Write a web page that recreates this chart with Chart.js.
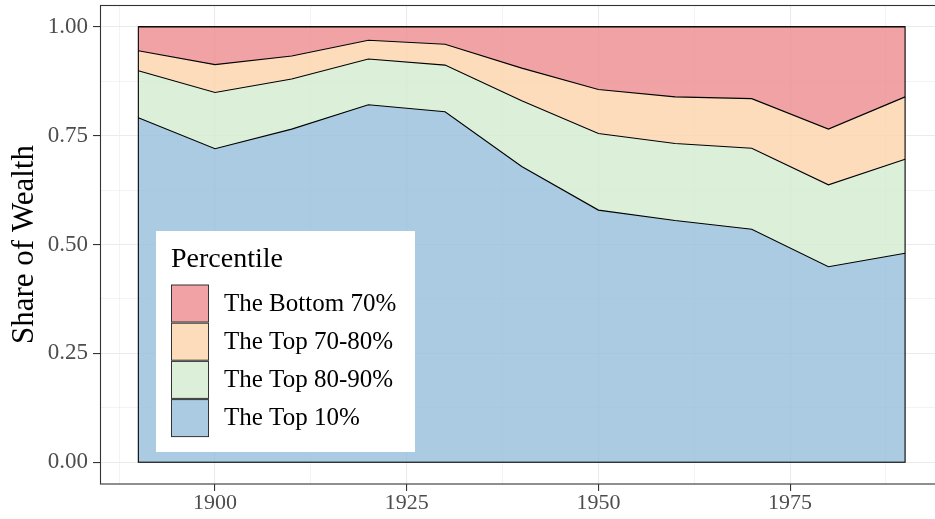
<!DOCTYPE html>
<html>
<head>
<meta charset="utf-8">
<script src="https://cdn.jsdelivr.net/npm/chart.js@4"></script>
<style>
  html, body { margin: 0; padding: 0; background: #fff; overflow: hidden; }
  #wrap { width: 935px; height: 519px; }
</style>
</head>
<body>
<div id="wrap"><canvas id="chart" width="935" height="519"></canvas></div>
<script>
const years = [1890, 1900, 1910, 1920, 1930, 1940, 1950, 1960, 1970, 1980, 1990];
const top10    = [0.791, 0.720, 0.765, 0.821, 0.805, 0.679, 0.579, 0.555, 0.535, 0.449, 0.480];
const top80_90 = [0.108, 0.129, 0.115, 0.105, 0.107, 0.151, 0.176, 0.177, 0.186, 0.188, 0.216];
const top70_80 = [0.046, 0.064, 0.053, 0.043, 0.048, 0.075, 0.101, 0.107, 0.114, 0.128, 0.143];
const bottom70 = [0.055, 0.087, 0.067, 0.031, 0.040, 0.095, 0.144, 0.161, 0.165, 0.235, 0.161];

const xTicks = [1887.5, 1900, 1912.5, 1925, 1937.5, 1950, 1962.5, 1975, 1987.5];
const yTicks = [0, 0.125, 0.25, 0.375, 0.5, 0.625, 0.75, 0.875, 1];

const SERIES = [
  { label: "The Top 10%",    data: top10,    fill: "rgba(149,190,219,0.8)" },
  { label: "The Top 80-90%", data: top80_90, fill: "rgba(211,235,207,0.8)" },
  { label: "The Top 70-80%", data: top70_80, fill: "rgba(253,211,171,0.8)" },
  { label: "The Bottom 70%", data: bottom70, fill: "rgba(236,139,143,0.8)" },
];

const FONT = "'Liberation Serif', 'DejaVu Serif', serif";
const isMajorX = v => v % 25 === 0;
const isMajorY = v => Math.abs(v * 4 - Math.round(v * 4)) < 1e-9;

const panelPlugin = {
  id: "panel",
  afterDatasetsDraw(chart) {
    const { ctx, scales: { x, y } } = chart;
    ctx.save();
    ctx.strokeStyle = "#000";
    ctx.lineWidth = 1.1;
    const l = x.getPixelForValue(years[0]), r = x.getPixelForValue(years[years.length - 1]);
    const t = y.getPixelForValue(1), b = y.getPixelForValue(0);
    ctx.strokeRect(l, t, r - l, b - t);
    ctx.restore();
  },
  afterDraw(chart) {
    const { ctx, chartArea: a } = chart;
    ctx.save();
    // panel border
    ctx.strokeStyle = "#333333";
    ctx.lineWidth = 1.1;
    ctx.strokeRect(a.left + 0.5, a.top + 0.5, a.right - a.left + 5, a.bottom - a.top - 0.5);

    // legend
    ctx.fillStyle = "#fff";
    ctx.fillRect(156, 231, 259, 221);
    ctx.fillStyle = "#000";
    ctx.font = "28px " + FONT;
    ctx.textBaseline = "alphabetic";
    ctx.fillText("Percentile", 171, 267);
    const order = [3, 2, 1, 0];
    ctx.font = "25px " + FONT;
    ctx.textBaseline = "middle";
    order.forEach((si, i) => {
      const ky = 285 + i * 38.2;
      ctx.fillStyle = SERIES[si].fill;
      ctx.fillRect(171.5, ky, 37, 37);
      ctx.strokeStyle = "#333";
      ctx.lineWidth = 1;
      ctx.strokeRect(171.5, ky, 37, 37);
      ctx.fillStyle = "#000";
      ctx.fillText(SERIES[si].label, 224, ky + 19);
    });
    ctx.restore();
  }
};

new Chart(document.getElementById("chart"), {
  type: "line",
  data: {
    datasets: SERIES.map((s, i) => ({
      label: s.label,
      data: s.data.map((v, j) => ({ x: years[j], y: v })),
      backgroundColor: s.fill,
      borderColor: "#000",
      borderWidth: 1.1,
      pointRadius: 0,
      tension: 0,
      fill: i === 0 ? "origin" : "-1",
    }))
  },
  options: {
    responsive: false,
    animation: false,
    layout: { padding: { top: 5, right: 0, bottom: 0, left: 0 } },
    plugins: { legend: { display: false }, tooltip: { enabled: false } },
    scales: {
      x: {
        type: "linear",
        min: 1885,
        max: 1993.9,
        afterBuildTicks: s => { s.ticks = xTicks.map(v => ({ value: v })); },
        afterFit: s => { s.height = 35; s.paddingLeft = 0; s.paddingRight = 0; },
        grid: {
          color: "#EBEBEB",
          lineWidth: c => isMajorX(c.tick.value) ? 1.1 : 0.6,
          tickLength: 7,
          tickColor: c => isMajorX(c.tick.value) ? "#333333" : "rgba(0,0,0,0)",
          tickWidth: 1.1,
        },
        border: { display: false },
        ticks: {
          autoSkip: false,
          maxRotation: 0,
          padding: 1,
          color: "#4D4D4D",
          font: { family: FONT, size: 22, lineHeight: 1 },
          callback: v => isMajorX(v) ? String(v) : "",
        },
      },
      y: {
        stacked: true,
        min: -0.05,
        max: 1.05,
        afterBuildTicks: s => { s.ticks = yTicks.map(v => ({ value: v })); },
        afterFit: s => { s.width = 100; s.paddingTop = 0; s.paddingBottom = 0; },
        grid: {
          color: "#EBEBEB",
          lineWidth: c => isMajorY(c.tick.value) ? 1.1 : 0.6,
          tickLength: 7,
          tickColor: c => isMajorY(c.tick.value) ? "#333333" : "rgba(0,0,0,0)",
          tickWidth: 1.1,
        },
        border: { display: false },
        ticks: {
          autoSkip: false,
          padding: 5,
          color: "#4D4D4D",
          font: { family: FONT, size: 23, lineHeight: 1 },
          callback: v => isMajorY(v) ? v.toFixed(2) : "",
        },
        title: {
          display: true,
          text: "Share of Wealth",
          color: "#000",
          font: { family: FONT, size: 31, lineHeight: 1 },
          padding: { top: 9, bottom: 0 },
        },
      },
    },
  },
  plugins: [panelPlugin],
});
</script>
</body>
</html>
